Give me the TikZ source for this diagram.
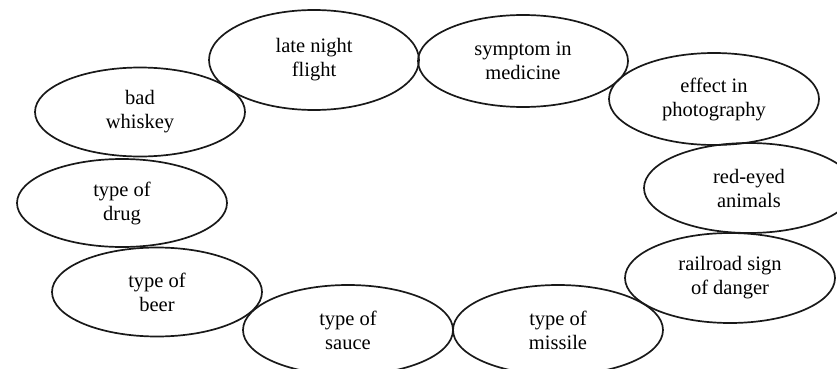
\documentclass[tikz,border=0pt]{standalone}
\usepackage{fontspec}
\setmainfont{Liberation Serif}
\usetikzlibrary{shapes.geometric}
\begin{document}
\begin{tikzpicture}[x=1pt,y=-1pt,
  oval/.style={ellipse, draw=black!90, line width=1.7pt, minimum width=210pt, minimum height=90pt, inner sep=0pt, align=center, font=\fontsize{20.5}{24}\selectfont, text=black}]
\useasboundingbox (0,0) rectangle (837,369);
\clip (0,0) rectangle (837,369);
\node[oval, minimum height=100pt] (flight) at (314,60) {late night\\flight};
\node[oval, minimum height=92pt] (symptom) at (523,61) {symptom in\\medicine};
\node[oval, minimum height=92pt] (effect) at (714,99) {effect in\\photography};
\node[oval] (redeyed) at (749,188) {red-eyed\\animals};
\node[oval] (railroad) at (730,278) {railroad sign\\of danger};
\node[oval] (missile) at (558,330) {type of\\missile};
\node[oval] (sauce) at (348,330) {type of\\sauce};
\node[oval, minimum height=89pt] (beer) at (157,292) {type of\\beer};
\node[oval, minimum height=88pt] (drug) at (122,203) {type of\\drug};
\node[oval, minimum height=89pt] (whiskey) at (140,112) {bad\\whiskey};
\end{tikzpicture}
\end{document}
